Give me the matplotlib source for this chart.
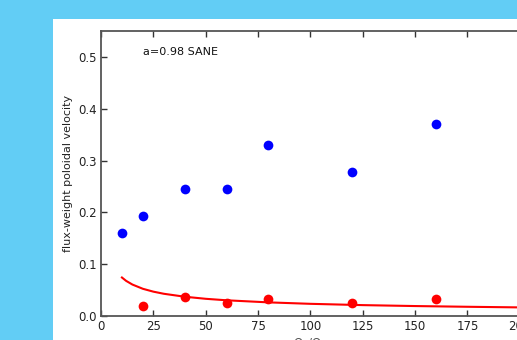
import matplotlib
matplotlib.use("Agg")
import matplotlib.pyplot as plt
from matplotlib.patches import Rectangle

# --- data ---
blue_x = [10, 20, 40, 60, 80, 120, 160]
blue_y = [0.161, 0.193, 0.245, 0.246, 0.330, 0.277, 0.370]

red_x = [20, 40, 60, 80, 120, 160]
red_y = [0.019, 0.037, 0.026, 0.032, 0.025, 0.032]

# fitted curve
fit_x = [10, 12, 15, 20, 25, 30, 40, 50, 60, 80, 100, 125, 150, 175, 200]
fit_y = [0.0743, 0.0678, 0.0607, 0.0525, 0.047, 0.0429, 0.0372, 0.0332,
         0.0303, 0.0263, 0.0235, 0.021, 0.0192, 0.0178, 0.0166]

W, H = 517, 340
fig = plt.figure(figsize=(W / 100, H / 100), dpi=100)
fig.patch.set_facecolor("#62cdf5")

# white page area (behind the axes)
fig.patches.append(Rectangle((53 / W, 0), 1, (H - 19) / H, transform=fig.transFigure,
                             facecolor="white", edgecolor="none", zorder=-1))

# axes run a little past the right edge of the picture, like the cropped original
ax = fig.add_axes([101 / W, 24 / H, (519.7 - 101) / W, (316 - 31) / H])
ax.set_facecolor("white")

ax.plot(fit_x, fit_y, color="red", linewidth=1.5, zorder=2)
ax.plot(blue_x, blue_y, "o", color="blue", markersize=7, markeredgewidth=0, zorder=3)
ax.plot(red_x, red_y, "o", color="red", markersize=7, markeredgewidth=0, zorder=3)

ax.set_xlim(0, 200)
ax.set_ylim(0, 0.55)
ax.set_xticks([0, 25, 50, 75, 100, 125, 150, 175, 200])
ax.set_yticks([0.0, 0.1, 0.2, 0.3, 0.4, 0.5])

ax.tick_params(direction="in", top=True, right=False, length=4, width=1,
               colors="#333333", labelsize=8.5, labelcolor="#222222", pad=3)
for s in ax.spines.values():
    s.set_color("#555555")
    s.set_linewidth(1.3)

ax.text(20, 0.51, "a=0.98 SANE", fontsize=8, color="#111111", ha="left", va="center")
ax.set_ylabel("flux-weight poloidal velocity", fontsize=8, color="#222222", labelpad=4)
ax.set_xlabel(r"$\Omega_F/\Omega_H$", fontsize=8.5, color="#555555", labelpad=3)

fig.savefig("out.png", dpi=100, facecolor=fig.get_facecolor())
